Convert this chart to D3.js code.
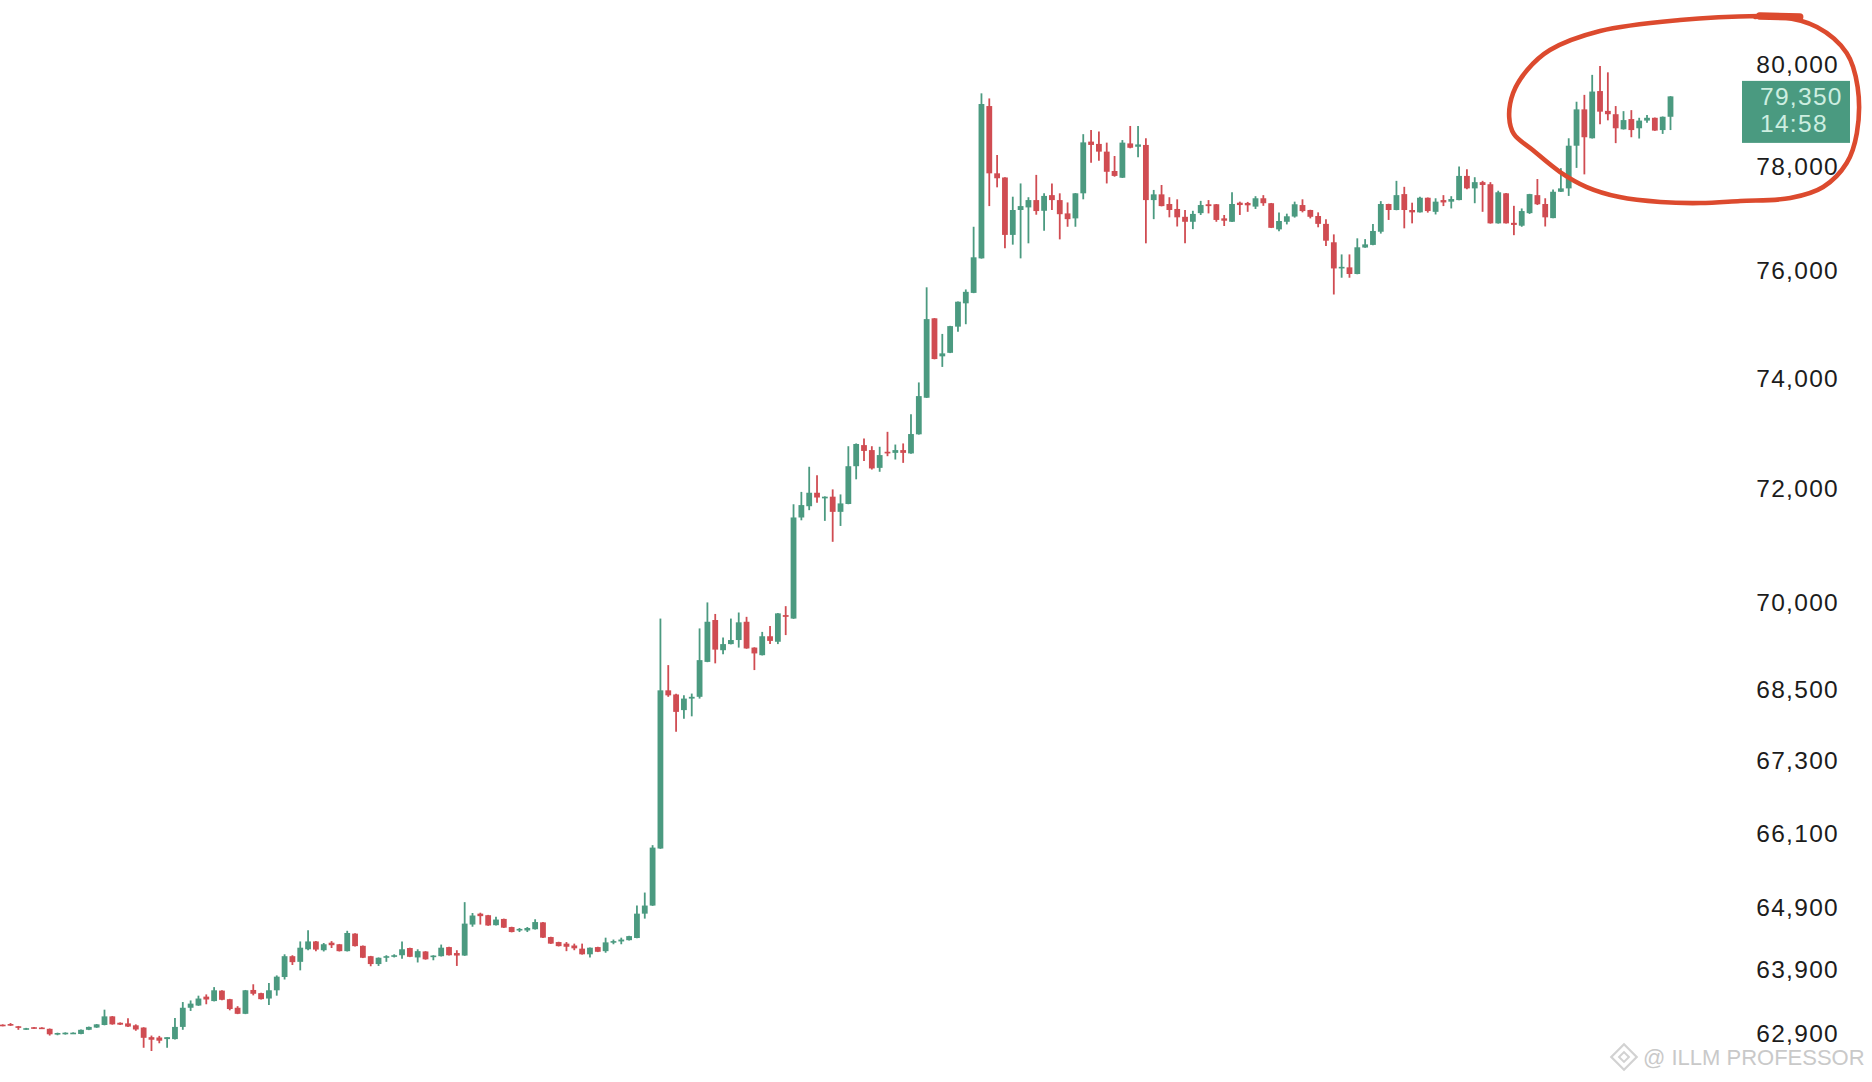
<!DOCTYPE html>
<html>
<head>
<meta charset="utf-8">
<title>BTC 15m candles</title>
<script src="https://d3js.org/d3.v7.min.js"></script>
<style>
  body { margin: 0; background: #fff; }
  svg { display: block; }
  .axis text { font-family: "Liberation Sans", Arial, sans-serif; font-size: 24.5px; fill: #1c1c1c; letter-spacing: 1.3px; }
  .tag { font-family: "Liberation Sans", Arial, sans-serif; font-size: 24.5px; fill: #cdeee0; letter-spacing: 1.3px; }
  .mark { font-family: "Liberation Sans", Arial, sans-serif; font-size: 22px; fill: #c9c9c9; }
</style>
</head>
<body>
<svg width="1872" height="1082"></svg>
<script>
// candle values, oldest first
const opens = [63030,63040,63005,62955,62990,62985,62965,62880,62880,62890,62885,62950,62985,63025,63160,63060,63050,63020,62985,62835,
  62830,62805,62805,62995,63295,63330,63470,63400,63565,63430,63295,63200,63575,63525,63440,63570,63780,64110,64020,64220,
  64345,64205,64325,64300,64190,64470,64275,64110,63985,64090,64105,64125,64240,64090,64185,64100,64110,64255,64160,64120,
  64615,64790,64765,64605,64705,64575,64520,64520,64540,64650,64415,64335,64310,64280,64230,64140,64255,64190,64330,64345,
  64365,64400,64790,64920,65845,68480,68410,68145,68340,68370,68965,69685,69165,69270,69340,69655,69210,69080,69405,69310,
  69770,69710,71480,71680,71920,71820,71850,71580,71720,72395,72775,72685,72365,72655,72635,72685,72625,72970,73635,75100,
  74395,74460,74945,75380,75575,76225,79160,77850,77770,76670,77145,77195,77335,77130,77430,77335,77080,76985,77465,78465,
  78420,78270,77895,77765,78430,78365,78400,77335,77445,77260,77165,77015,76920,77085,77255,77255,76985,76920,77285,77280,
  77210,77370,77275,76775,76920,77020,77240,77145,77030,76880,76530,76035,76055,75930,76430,76480,76730,77260,77145,77450,
  77145,77100,77380,77110,77335,77305,77335,77800,77560,77680,77640,76890,77465,76900,76845,77085,77430,77260,76990,77495,
  77560,78385,79095,78530,79455,79065,79000,78705,78905,78725,78875,78930,78690,78950];
const highs = [63035,63055,63010,62980,62995,62990,62970,62905,62910,62910,62955,63000,63040,63265,63165,63065,63130,63035,62990,62860,
  62855,62835,63135,63385,63410,63485,63505,63620,63570,63435,63320,63575,63665,63530,63685,63805,64140,64125,64345,64525,
  64350,64320,64350,64305,64515,64475,64280,64115,64090,64125,64140,64345,64245,64220,64190,64125,64295,64260,64205,64975,
  64800,64805,64770,64740,64710,64580,64560,64575,64700,64655,64420,64340,64335,64310,64310,64250,64260,64405,64375,64405,
  64435,64920,65130,65900,69710,68910,68420,68395,68425,69540,69990,69790,69385,69710,69815,69740,69215,69480,69580,69805,
  69925,71715,71935,72385,72235,71855,71980,71890,72755,72805,72895,72755,72745,73015,72785,72805,73335,73915,75680,75105,
  74810,74960,75415,75640,76825,79410,79310,78205,77775,77400,77655,77390,77820,77465,77655,77465,77290,77470,78610,78690,
  78660,78445,78185,78495,78770,78770,78530,77530,77625,77390,77350,77145,77130,77320,77335,77260,77050,77485,77305,77300,
  77410,77430,77280,77095,77075,77305,77350,77150,77100,76970,76680,76300,76300,76605,76590,76880,77315,77265,77705,77590,
  77285,77400,77385,77370,77430,77410,77980,77930,77775,77705,77680,77515,77470,77225,77175,77455,77740,77370,77540,77950,
  78530,79245,79380,79775,79950,79825,79160,79060,79080,78930,78985,78935,78955,79355];
const lows = [63005,63010,62950,62950,62965,62965,62860,62865,62875,62885,62880,62945,62980,63020,63030,63025,62995,62935,62670,62620,
  62740,62670,62800,62950,63245,63325,63350,63395,63415,63255,63195,63195,63490,63425,63340,63485,63740,63970,63885,64205,
  64190,64185,64240,64185,64185,64265,64080,63950,63955,64020,64090,64070,64095,64010,64055,64045,64105,64120,63955,64115,
  64580,64615,64595,64600,64560,64490,64495,64495,64535,64400,64305,64265,64190,64205,64135,64090,64175,64165,64300,64300,
  64360,64395,64710,64915,65840,68370,67780,68000,68040,68340,68960,68940,69095,69265,69210,69190,68825,69075,69270,69270,
  69425,69705,71430,71610,71740,71420,71050,71330,71715,72160,72490,72335,72295,72575,72515,72455,72620,72965,73630,74340,
  74200,74455,74850,74990,75570,76220,77220,77580,76415,76485,76225,76510,77055,76750,77145,76585,76825,76825,77350,78055,
  78095,77655,77785,77760,78335,78160,76510,76970,77215,77005,76830,76510,76780,77050,77080,76920,76840,76915,77050,77110,
  77165,77225,76800,76740,76870,77000,77100,76985,76815,76460,75545,75860,75860,75925,76425,76475,76695,76955,77140,76795,
  76890,77095,77095,77060,77220,77175,77330,77545,77275,77110,76885,76885,76885,76665,76825,77070,77240,76830,76985,77490,
  77415,77955,77830,78525,78805,78880,78435,78700,78550,78525,78835,78675,78615,78690];
const closes = [63010,63015,62985,62975,62970,62970,62880,62900,62905,62905,62950,62995,63035,63160,63035,63030,63000,62955,62825,62795,
  62780,62835,62995,63295,63360,63440,63425,63570,63420,63275,63200,63570,63515,63430,63570,63785,64110,64015,64245,64345,
  64215,64300,64285,64190,64480,64270,64085,63985,64085,64110,64125,64220,64100,64190,64060,64120,64245,64125,64120,64630,
  64760,64750,64600,64695,64565,64495,64545,64560,64655,64405,64310,64270,64260,64235,64140,64245,64180,64330,64350,64375,
  64430,64790,64920,65860,68480,68395,68115,68340,68370,68995,69655,69175,69270,69340,69645,69195,69110,69405,69325,69800,
  69740,71480,71700,71920,71835,71850,71580,71730,72395,72795,72670,72355,72595,72625,72685,72635,72975,73665,75085,74345,
  74450,74955,75410,75595,76245,79200,77850,77755,76670,77145,77220,77335,77125,77415,77335,77065,76970,77465,78450,78400,
  78270,77880,77800,78445,78345,78410,77335,77445,77220,77145,77005,76920,77070,77240,77220,76955,76940,77260,77240,77235,
  77370,77275,76805,76935,77025,77255,77125,77015,76880,76560,76035,76065,75930,76435,76490,76745,77260,77145,77430,77145,
  77100,77380,77125,77305,77290,77355,77800,77560,77680,77625,76890,77485,76890,76860,77125,77450,77255,77005,77495,77560,
  78385,79095,78550,79445,79050,79000,78725,78885,78690,78875,78930,78680,78950,79350];

const priceTicks = [80000, 78000, 76000, 74000, 72000, 70000, 68500, 67300, 66100, 64900, 63900, 62900];
const lastPrice = 79350;
const countdown = "14:58";
const watermark = "@ ILLM PROFESSOR";

// hand drawn ring round the last candles (candle index, price)
const circleIdx = [229.5, 224.4, 214.2, 204.0, 197.6, 194.7, 192.9, 192.4, 193.0, 195.4, 198.9, 202.3, 206.5,
  211.7, 216.8, 221.9, 228.3, 232.5, 235.5, 236.8, 236.9, 235.5, 231.7, 226.3, 223.8];
const circlePrice = [80928, 80949, 80868, 80648, 80268, 79871, 79417, 78945, 78613, 78301, 77875, 77586, 77393,
  77298, 77278, 77317, 77374, 77586, 78049, 78632, 79535, 80209, 80728, 80949, 80928];

const candles = closes.map((c, i) => ({ i, o: opens[i], h: highs[i], l: lows[i], c }));

const svg = d3.select("svg");

const x = d3.scaleLinear().domain([0, closes.length - 1]).range([2.7, 1670.5]);
const y = d3.scaleLog().domain([62900, 80000]).range([1033, 63.5]);
const step = x(1) - x(0);
const bodyW = step * 0.74;

const up = "#4b9a80", down = "#d04c52";
const col = d => d.c >= d.o ? up : down;

const plot = svg.append("g");

// wicks
plot.selectAll(".wick")
  .data(candles)
  .join("line")
  .attr("class", "wick")
  .attr("x1", d => x(d.i))
  .attr("x2", d => x(d.i))
  .attr("y1", d => y(d.h))
  .attr("y2", d => y(d.l))
  .attr("stroke", col)
  .attr("stroke-width", 1.8);

// bodies
plot.selectAll(".body")
  .data(candles)
  .join("rect")
  .attr("class", "body")
  .attr("x", d => x(d.i) - bodyW / 2)
  .attr("width", bodyW)
  .attr("y", d => y(Math.max(d.o, d.c)))
  .attr("height", d => Math.max(1.6, y(Math.min(d.o, d.c)) - y(Math.max(d.o, d.c))))
  .attr("fill", col);

// price axis on the right
const yAxis = d3.axisRight(y)
  .tickValues(priceTicks)
  .tickFormat(d3.format(","))
  .tickSize(0);

const ax = svg.append("g")
  .attr("class", "axis")
  .attr("transform", "translate(1839,0)")
  .call(yAxis);
ax.select(".domain").remove();
ax.selectAll("text")
  .attr("x", 0)
  .attr("dy", null)
  .attr("dominant-baseline", "central")
  .attr("text-anchor", "end")
  .style("font-family", null)
  .style("font-size", null);
ax.attr("font-size", null).attr("font-family", null);

// last price tag
const yl = y(lastPrice);
svg.append("rect")
  .attr("x", 1742)
  .attr("y", yl - 15.5)
  .attr("width", 108)
  .attr("height", 62)
  .attr("fill", "#4a9a80");
svg.append("text")
  .attr("class", "tag")
  .attr("x", 1760)
  .attr("y", yl)
  .attr("dominant-baseline", "central")
  .text(d3.format(",")(lastPrice));
svg.append("text")
  .attr("class", "tag")
  .attr("x", 1760)
  .attr("y", yl + 27.5)
  .attr("dominant-baseline", "central")
  .text(countdown);

// red ring annotation
const ring = circleIdx.map((v, k) => [v, circlePrice[k]]);
const ringLine = d3.line()
  .x(d => x(d[0]))
  .y(d => y(d[1]))
  .curve(d3.curveCatmullRom.alpha(0.5));
svg.append("path")
  .attr("d", ringLine(ring))
  .attr("fill", "none")
  .attr("stroke", "#dc4a2e")
  .attr("stroke-width", 4.6)
  .attr("stroke-linecap", "round");
svg.append("path")
  .attr("d", ringLine(ring.slice(0, 2)))
  .attr("fill", "none")
  .attr("stroke", "#dc4a2e")
  .attr("stroke-width", 7.5)
  .attr("stroke-linecap", "round");

// watermark
const wm = svg.append("g").attr("transform", "translate(1624,1057)");
wm.append("rect")
  .attr("x", -9).attr("y", -9).attr("width", 18).attr("height", 18)
  .attr("transform", "rotate(45)")
  .attr("fill", "none").attr("stroke", "#d2d2d2").attr("stroke-width", 2.2);
wm.append("rect")
  .attr("x", -3.5).attr("y", -3.5).attr("width", 7).attr("height", 7)
  .attr("transform", "rotate(45)")
  .attr("fill", "none").attr("stroke", "#d2d2d2").attr("stroke-width", 2);
svg.append("text")
  .attr("class", "mark")
  .attr("x", 1643)
  .attr("y", 1065)
  .text(watermark);
</script>
</body>
</html>
